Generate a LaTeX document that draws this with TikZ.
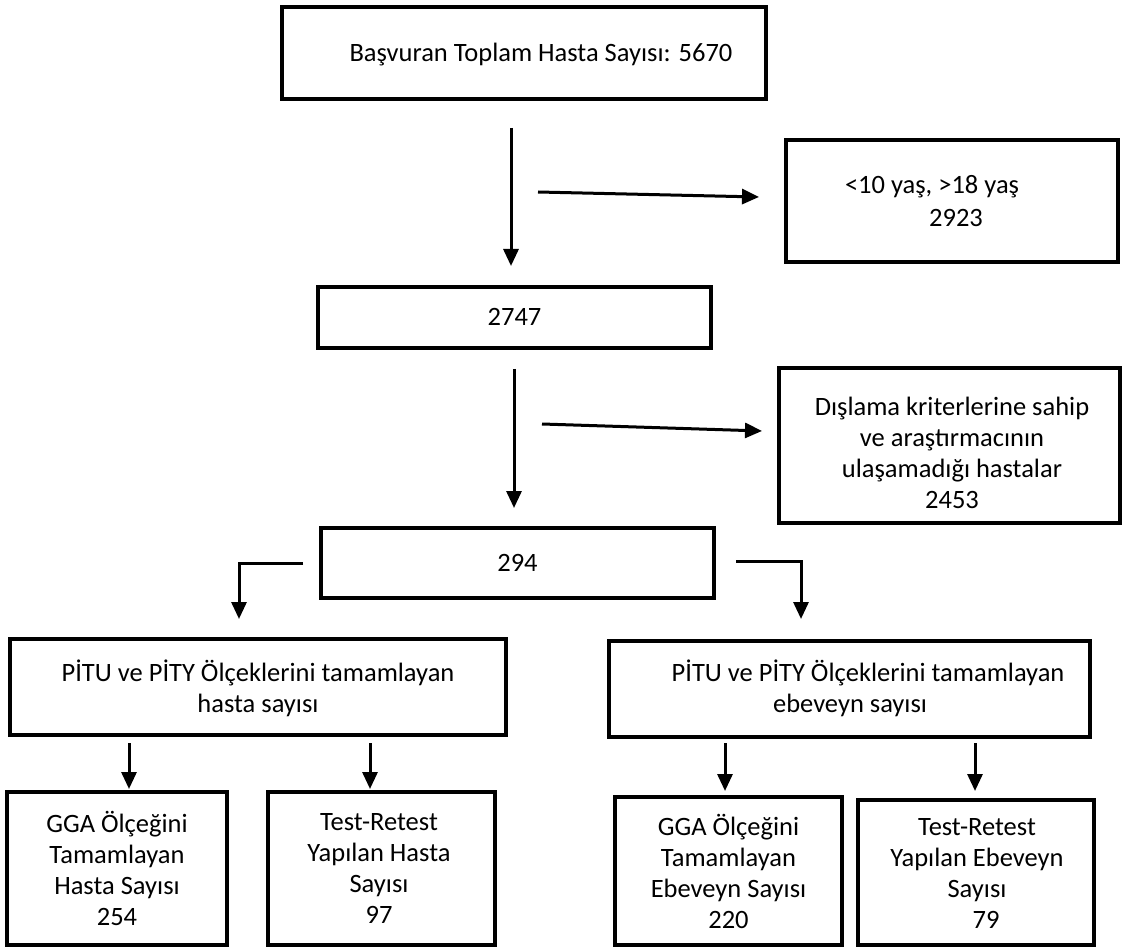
\documentclass[tikz,border=0pt]{standalone}
\usepackage{fontspec}
\setmainfont{Carlito}
\usetikzlibrary{arrows.meta}
\begin{document}
\begin{tikzpicture}[x=1pt,y=-1pt,
  box/.style={draw, line width=3.5pt, inner sep=0pt},
  txt/.style={inner sep=0pt, align=center, font=\fontsize{26.5}{31}\selectfont},
  arr/.style={line width=3pt, -{Triangle[width=15pt,length=17pt]}},
]
\useasboundingbox (0,0) rectangle (1124,949);
\fill[white] (0,0) rectangle (1124,949);

% boxes
\node[box, minimum width=484pt, minimum height=92pt] (top) at (524,53) {};
\node[box, minimum width=332pt, minimum height=122pt] (age) at (952,201) {};
\node[box, minimum width=393pt, minimum height=61pt] (n2747) at (514.5,317.5) {};
\node[box, minimum width=341pt, minimum height=155pt] (excl) at (949.5,445.5) {};
\node[box, minimum width=393pt, minimum height=70pt] (n294) at (517.5,563) {};
\node[box, minimum width=496pt, minimum height=96pt] (pl) at (258,687) {};
\node[box, minimum width=481pt, minimum height=96pt] (pr) at (849.5,689) {};
\node[box, minimum width=220pt, minimum height=153pt] (b1) at (117,868.5) {};
\node[box, minimum width=227pt, minimum height=153pt] (b2) at (381.5,868.5) {};
\node[box, minimum width=227pt, minimum height=148pt] (b3) at (728.5,871) {};
\node[box, minimum width=236pt, minimum height=145pt] (b4) at (976,872.5) {};

% texts
\node[txt] (ttop) at (541,55) {Başvuran Toplam Hasta Sayısı: 5670};
\node[txt] (tage1) at (932,187) {<10 yaş, >18 yaş};
\node[txt] (tage2) at (956,218) {2923};
\node[txt] (t2747) at (514.5,317) {2747};
\node[txt] (texcl) at (952,453) {Dışlama kriterlerine sahip\\ve araştırmacının\\ulaşamadığı hastalar\\2453};
\node[txt] (t294) at (517.5,563) {294};
\node[txt] (tpl) at (258,688) {PİTU ve PİTY Ölçeklerini tamamlayan\\hasta sayısı};
\node[txt] (tpr1) at (868,673) {PİTU ve PİTY Ölçeklerini tamamlayan};
\node[txt] (tpr2) at (850,705) {ebeveyn sayısı};
\node[txt] (tb1) at (117,868) {GGA Ölçeğini\\Tamamlayan\\Hasta Sayısı\\254};
\node[txt] (tb2) at (379,868) {Test-Retest\\Yapılan Hasta\\Sayısı\\97};
\node[txt] (tb3) at (728.5,871) {GGA Ölçeğini\\Tamamlayan\\Ebeveyn Sayısı\\220};
\node[txt] (tb4) at (977,873) {Test-Retest\\Yapılan Ebeveyn\\Sayısı\\\hspace*{18pt}79};

% connector end points
\coordinate (a1s) at (511,128);
\coordinate (a1e) at (511,266);
\coordinate (s1s) at (538,192);
\coordinate (s1e) at (759,197);
\coordinate (a2s) at (514,369);
\coordinate (a2e) at (514,508);
\coordinate (s2s) at (542,424);
\coordinate (s2e) at (762,431);
\coordinate (lls) at (303,563);
\coordinate (llc) at (239,563);
\coordinate (lle) at (239,619);
\coordinate (lrs) at (736,561);
\coordinate (lrc) at (801,561);
\coordinate (lre) at (801,619);
\coordinate (d1s) at (129,743);
\coordinate (d1e) at (129,789);
\coordinate (d2s) at (370,743);
\coordinate (d2e) at (370,789);
\coordinate (d3s) at (725,743);
\coordinate (d3e) at (725,791);
\coordinate (d4s) at (975,743);
\coordinate (d4e) at (975,791);

% connectors
\draw[arr] (a1s) -- (a1e);
\draw[arr] (s1s) -- (s1e);
\draw[arr] (a2s) -- (a2e);
\draw[arr] (s2s) -- (s2e);
\draw[arr] (lls) -- (llc) -- (lle);
\draw[arr] (lrs) -- (lrc) -- (lre);
\draw[arr] (d1s) -- (d1e);
\draw[arr] (d2s) -- (d2e);
\draw[arr] (d3s) -- (d3e);
\draw[arr] (d4s) -- (d4e);
\end{tikzpicture}
\end{document}
